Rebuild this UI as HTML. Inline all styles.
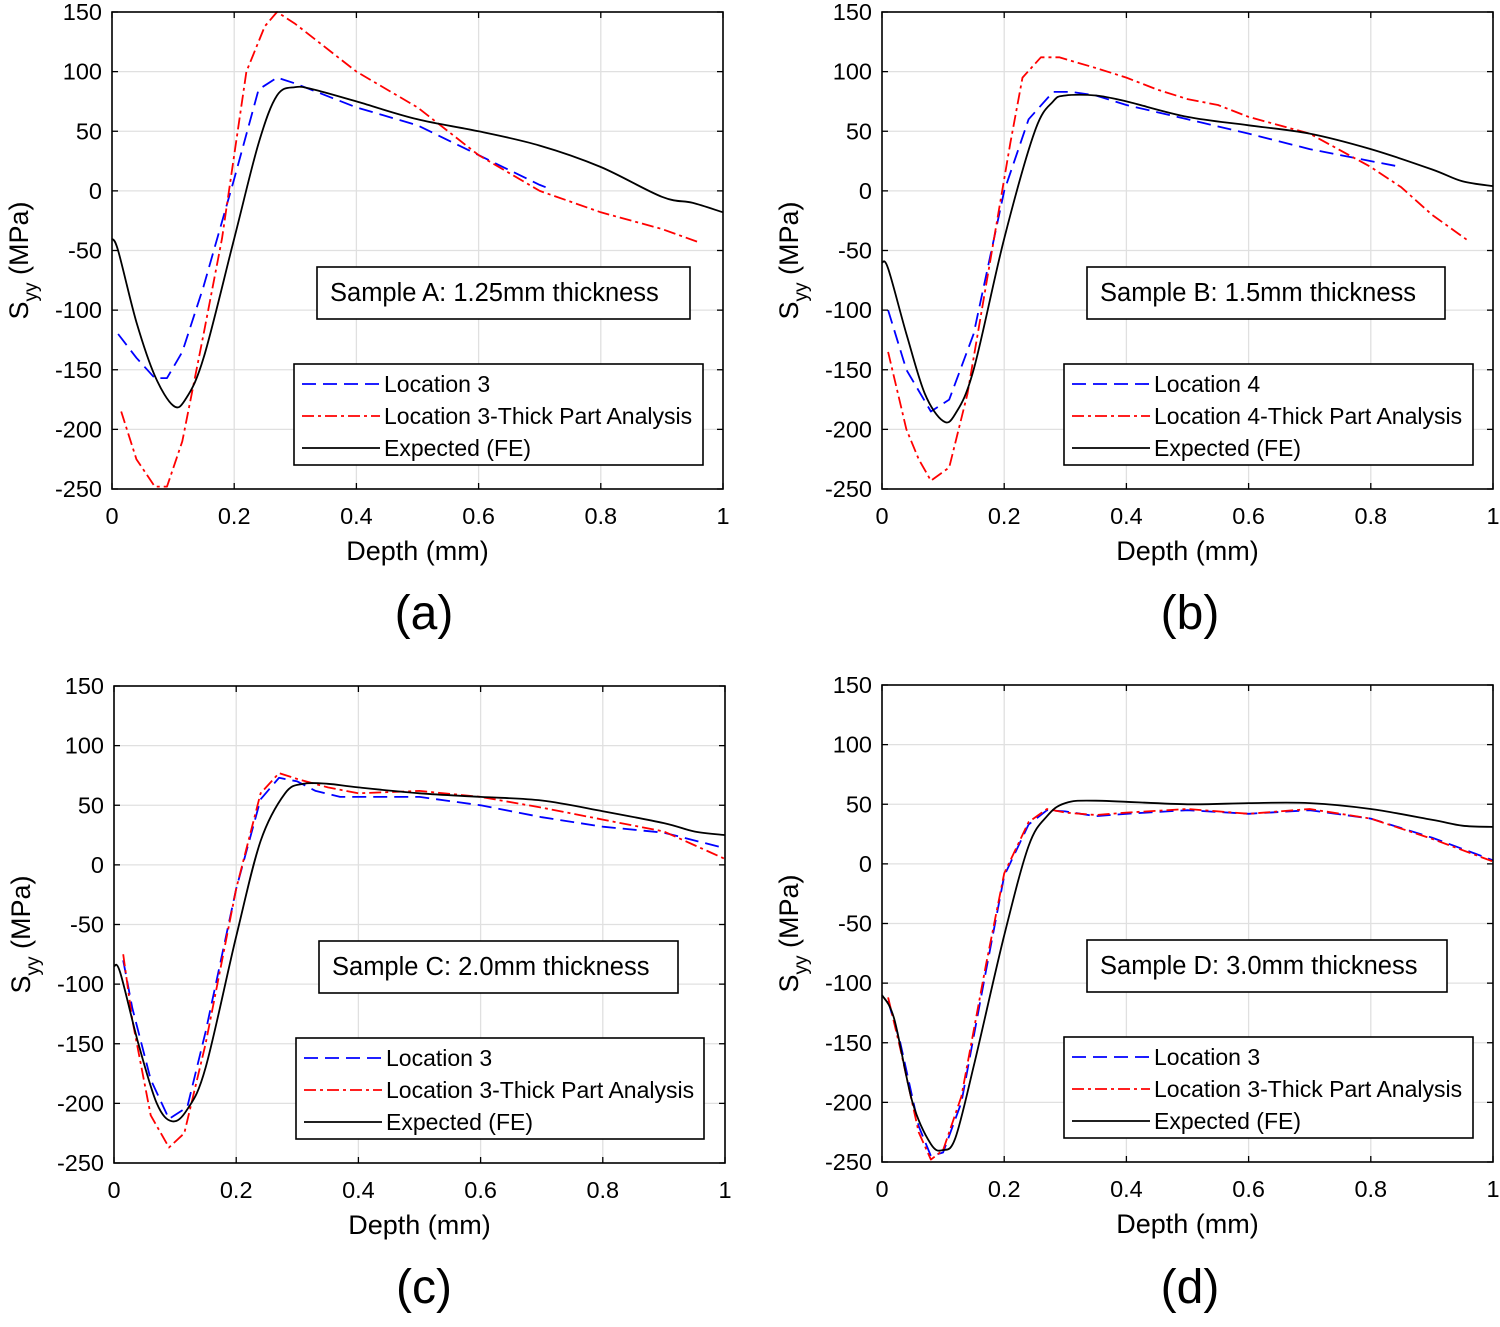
<!DOCTYPE html>
<html><head><meta charset="utf-8">
<style>
html,body{margin:0;padding:0;background:#fff;}
svg{display:block;font-family:"Liberation Sans",sans-serif;}
</style></head>
<body>
<svg id="fig" width="1500" height="1327" viewBox="0 0 1500 1327" xmlns="http://www.w3.org/2000/svg"></svg>
<script>
// ---- data ----
const xTicks = [0,0.2,0.4,0.6,0.8,1];
const xTickLabels = ["0","0.2","0.4","0.6","0.8","1"];
const yTicks = [150,100,50,0,-50,-100,-150,-200,-250];
const yTickLabels = ["150","100","50","0","-50","-100","-150","-200","-250"];
const panelTitles = ["Sample A: 1.25mm thickness","Sample B: 1.5mm thickness","Sample C: 2.0mm thickness","Sample D: 3.0mm thickness"];
const panelLetters = ["(a)","(b)","(c)","(d)"];
const legendLocs = ["Location 3","Location 4","Location 3","Location 3"];

const aBlueX=[0.01,0.04,0.07,0.09,0.115,0.15,0.2,0.24,0.27,0.3,0.4,0.5,0.6,0.7,0.715];
const aBlueY=[-120,-140,-157,-157,-135,-80,10,85,95,90,70,55,30,5,2];
const aRedX=[0.015,0.04,0.07,0.09,0.115,0.15,0.18,0.22,0.25,0.27,0.3,0.4,0.5,0.6,0.7,0.8,0.9,0.96];
const aRedY=[-185,-225,-248,-248,-210,-120,-40,100,138,150,140,100,70,30,0,-18,-32,-43];
const aBlackX=[0,0.01,0.04,0.07,0.1,0.12,0.15,0.2,0.24,0.27,0.3,0.33,0.4,0.5,0.6,0.7,0.8,0.9,0.95,1];
const aBlackY=[-40,-50,-110,-155,-180,-175,-140,-40,40,80,87,85,75,60,50,38,20,-5,-10,-18];

const bBlueX=[0.01,0.04,0.08,0.11,0.15,0.2,0.24,0.28,0.31,0.35,0.4,0.5,0.6,0.7,0.8,0.85];
const bBlueY=[-100,-150,-185,-175,-120,0,60,83,83,80,72,60,48,35,25,20];
const bRedX=[0.01,0.04,0.06,0.08,0.11,0.14,0.18,0.21,0.23,0.26,0.29,0.35,0.4,0.45,0.5,0.55,0.6,0.7,0.8,0.85,0.9,0.96];
const bRedY=[-135,-200,-225,-243,-232,-170,-50,40,95,112,112,103,95,85,77,72,62,48,20,3,-20,-42];
const bBlackX=[0,0.01,0.04,0.07,0.1,0.12,0.15,0.2,0.25,0.28,0.3,0.35,0.4,0.5,0.6,0.7,0.8,0.9,0.95,1];
const bBlackY=[-60,-65,-120,-170,-193,-187,-150,-40,50,75,80,80,75,62,55,48,35,18,8,4];

const cBlueX=[0.015,0.03,0.06,0.09,0.12,0.15,0.2,0.24,0.27,0.3,0.33,0.37,0.5,0.6,0.7,0.8,0.9,1];
const cBlueY=[-80,-120,-180,-213,-203,-140,-20,55,73,70,62,57,57,50,40,32,27,14];
const cRedX=[0.015,0.03,0.06,0.09,0.115,0.15,0.2,0.24,0.27,0.3,0.35,0.4,0.5,0.6,0.7,0.8,0.9,1];
const cRedY=[-75,-130,-210,-237,-225,-150,-20,60,77,72,65,60,62,57,48,38,28,5];
const cBlackX=[0,0.01,0.04,0.07,0.095,0.12,0.15,0.2,0.24,0.28,0.31,0.35,0.4,0.5,0.6,0.7,0.8,0.9,0.95,1];
const cBlackY=[-85,-90,-150,-200,-215,-205,-170,-60,20,60,68,68,65,60,57,54,45,35,28,25];

const dBlueX=[0.01,0.03,0.06,0.08,0.1,0.13,0.17,0.2,0.24,0.27,0.3,0.35,0.4,0.5,0.6,0.7,0.8,0.9,1];
const dBlueY=[-115,-150,-220,-245,-242,-200,-90,-10,33,45,44,40,42,45,42,45,38,22,3];
const dRedX=[0.01,0.03,0.06,0.08,0.1,0.13,0.17,0.2,0.24,0.27,0.3,0.35,0.4,0.5,0.6,0.7,0.8,0.9,1];
const dRedY=[-112,-155,-225,-248,-240,-195,-85,-8,35,46,43,41,43,46,42,46,38,21,2];
const dBlackX=[0,0.02,0.05,0.08,0.1,0.12,0.15,0.2,0.24,0.27,0.3,0.35,0.5,0.6,0.7,0.8,0.9,0.95,1];
const dBlackY=[-110,-130,-200,-235,-240,-230,-170,-60,15,40,51,53,50,51,51,46,37,32,31];

const seriesX=[[aBlueX,aRedX,aBlackX],[bBlueX,bRedX,bBlackX],[cBlueX,cRedX,cBlackX],[dBlueX,dRedX,dBlackX]];
const seriesY=[[aBlueY,aRedY,aBlackY],[bBlueY,bRedY,bBlackY],[cBlueY,cRedY,cBlackY],[dBlueY,dRedY,dBlackY]];

// ---- layout ----
const panels=[
 {x0:112,x1:723,y0:12,y1:489,tb:[317,267,373,52],lg:[294,364,409,101],lbl:[424,612]},
 {x0:882,x1:1493,y0:12,y1:489,tb:[1087,267,358,52],lg:[1064,364,409,101],lbl:[1190,612]},
 {x0:114,x1:725,y0:686,y1:1163,tb:[319,941,359,52],lg:[296,1038,408,101],lbl:[424,1286]},
 {x0:882,x1:1493,y0:685,y1:1162,tb:[1087,940,360,52],lg:[1064,1037,409,101],lbl:[1190,1286]}
];
const NS="http://www.w3.org/2000/svg";
const svg=document.getElementById('fig');
function mk(tag,attrs,parent){const e=document.createElementNS(NS,tag);for(const k in attrs)e.setAttribute(k,attrs[k]);(parent||svg).appendChild(e);return e;}
const styles=[{stroke:"#0000ff",dash:"14 7"},{stroke:"#ff0000",dash:"12 4 3 4"},{stroke:"#000",dash:""}];
const sNames=["location-series","thick-part-series","expected-fe-series"];
function smoothPath(P){
  let d="M"+P[0][0].toFixed(1)+","+P[0][1].toFixed(1);
  for(let k=0;k<P.length-1;k++){
    const p0=P[Math.max(0,k-1)],p1=P[k],p2=P[k+1],p3=P[Math.min(P.length-1,k+2)];
    const c1=[p1[0]+(p2[0]-p0[0])/6,p1[1]+(p2[1]-p0[1])/6];
    const c2=[p2[0]-(p3[0]-p1[0])/6,p2[1]-(p3[1]-p1[1])/6];
    d+=` C${c1[0].toFixed(1)},${c1[1].toFixed(1)} ${c2[0].toFixed(1)},${c2[1].toFixed(1)} ${p2[0].toFixed(1)},${p2[1].toFixed(1)}`;
  }
  return d;
}

panels.forEach((p,i)=>{
  const g=mk('g',{});
  
  
  const sx=v=>p.x0+(p.x1-p.x0)*v;
  const sy=v=>p.y0+(150-v)*(p.y1-p.y0)/400;
  xTicks.forEach((t,k)=>{
    const gl=mk('line',{x1:sx(t),x2:sx(t),y1:p.y0,y2:p.y1,stroke:"#e0e0e0","stroke-width":1.3},g);
    
    
  });
  yTicks.forEach((t,k)=>{
    const gl=mk('line',{x1:p.x0,x2:p.x1,y1:sy(t),y2:sy(t),stroke:"#e0e0e0","stroke-width":1.3},g);
    
    
  });
  for(let s=0;s<3;s++){
    const X=seriesX[i][s],Y=seriesY[i][s];
    let el;
    if(s===2){
      const P=X.map((x,k)=>[sx(x),sy(Y[k])]);
      el=mk('path',{d:smoothPath(P),fill:"none",stroke:styles[s].stroke,"stroke-width":1.8},g);
    } else {
      const pts=X.map((x,k)=>sx(x).toFixed(1)+","+sy(Y[k]).toFixed(1)).join(" ");
      el=mk('polyline',{points:pts,fill:"none",stroke:styles[s].stroke,"stroke-width":1.8,"stroke-dasharray":styles[s].dash,"stroke-linejoin":"round"},g);
    }
    
    
  }
  const bx=mk('rect',{x:p.x0,y:p.y0,width:p.x1-p.x0,height:p.y1-p.y0,fill:"none",stroke:"#000","stroke-width":1.6},g);
  
  
  xTicks.forEach((t,k)=>{
    mk('line',{x1:sx(t),x2:sx(t),y1:p.y1,y2:p.y1-6,stroke:"#000","stroke-width":1.3},g);
    mk('line',{x1:sx(t),x2:sx(t),y1:p.y0,y2:p.y0+6,stroke:"#000","stroke-width":1.3},g);
    const tx=mk('text',{x:sx(t),y:p.y1+35,"font-size":23.5,"text-anchor":"middle"},g);
    tx.textContent=xTickLabels[k];
    
    
  });
  yTicks.forEach((t,k)=>{
    mk('line',{x1:p.x0,x2:p.x0+6,y1:sy(t),y2:sy(t),stroke:"#000","stroke-width":1.3},g);
    mk('line',{x1:p.x1,x2:p.x1-6,y1:sy(t),y2:sy(t),stroke:"#000","stroke-width":1.3},g);
    const ty=mk('text',{x:p.x0-10,y:sy(t)+8,"font-size":23.5,"text-anchor":"end"},g);
    ty.textContent=yTickLabels[k];
    
    
  });
  const xt=mk('text',{x:(p.x0+p.x1)/2,y:p.y1+71,"font-size":27,"text-anchor":"middle"},g);
  xt.textContent="Depth (mm)";
  
  
  const cy=(p.y0+p.y1)/2;
  const yt=mk('text',{x:0,y:0,"font-size":27,"text-anchor":"middle",transform:`translate(${p.x0-84},${cy+10}) rotate(-90)`},g);
  yt.innerHTML='S<tspan font-size="19" dy="9">yy</tspan><tspan dy="-9"> (MPa)</tspan>';
  
  
  const tg=mk('g',{},g);
  
  
  mk('rect',{x:p.tb[0],y:p.tb[1],width:p.tb[2],height:p.tb[3],fill:"#fff",stroke:"#000","stroke-width":1.6},tg);
  const tt=mk('text',{x:p.tb[0]+13,y:p.tb[1]+34,"font-size":25.5},tg);
  tt.textContent=panelTitles[i];
  const lg=mk('g',{},g);
  
  
  mk('rect',{x:p.lg[0],y:p.lg[1],width:p.lg[2],height:p.lg[3],fill:"#fff",stroke:"#000","stroke-width":1.6},lg);
  const labels=[legendLocs[i],legendLocs[i]+"-Thick Part Analysis","Expected (FE)"];
  for(let s=0;s<3;s++){
    const ly=p.lg[1]+20+s*32;
    const e=mk('g',{},lg);
    
    
    mk('line',{x1:p.lg[0]+8,x2:p.lg[0]+86,y1:ly,y2:ly,stroke:styles[s].stroke,"stroke-width":1.8,"stroke-dasharray":styles[s].dash},e);
    const t=mk('text',{x:p.lg[0]+90,y:ly+8,"font-size":23},e);
    t.textContent=labels[s];
  }
  const pl=mk('text',{x:p.lbl[0],y:p.lbl[1]+17,"font-size":48,"text-anchor":"middle"},g);
  pl.textContent=panelLetters[i];
  
  
});
</script>
</body></html>
